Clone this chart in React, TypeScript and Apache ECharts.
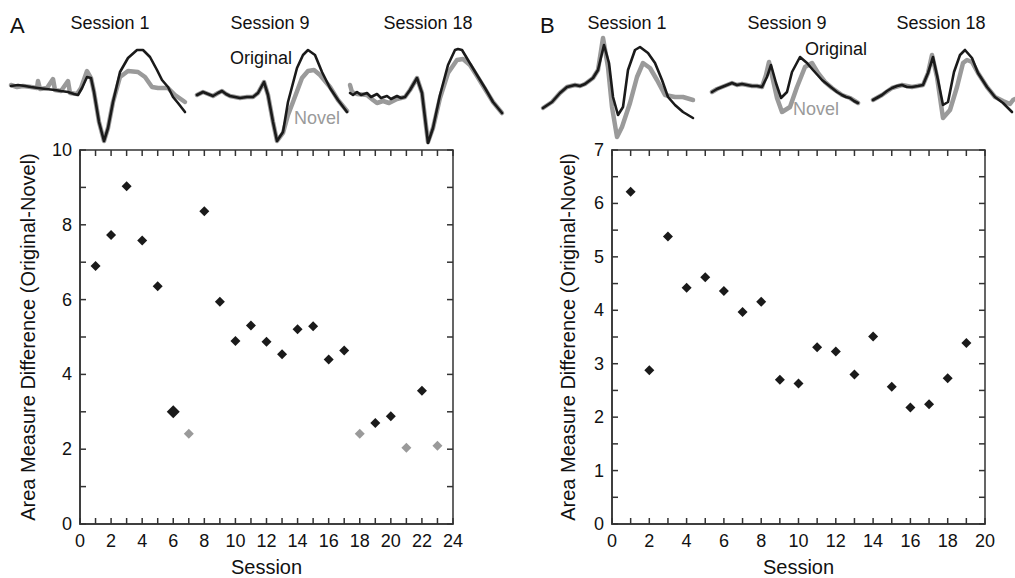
import React, { useEffect, useRef } from "react";
import * as echarts from "echarts";

// ---------- Scatter data ----------
const aOriginalSessions = [1, 2, 3, 4, 5, 6, 8, 9, 10, 11, 12, 13, 14, 15, 16, 17, 19, 20, 22];
const aOriginalValues = [6.9, 7.73, 9.03, 7.58, 6.36, 3.0, 8.36, 5.94, 4.89, 5.31, 4.87, 4.54, 5.21, 5.29, 4.4, 4.64, 2.7, 2.88, 3.56];
const aGreySessions = [7, 18, 21, 23];
const aGreyValues = [2.41, 2.41, 2.04, 2.09];
const aLargeMarkerSessions = [6];
const bSessions = [1, 2, 3, 4, 5, 6, 7, 8, 9, 10, 11, 12, 13, 14, 15, 16, 17, 18, 19];
const bValues = [6.22, 2.88, 5.38, 4.42, 4.62, 4.36, 3.97, 4.16, 2.7, 2.63, 3.31, 3.23, 2.8, 3.51, 2.57, 2.18, 2.24, 2.73, 3.39];

// axis ranges and tick steps
const aXRange = { min: 0, max: 24, tick: 1, label: 2 };
const aYRange = { min: 0, max: 10, tick: 1, label: 2 };
const bXRange = { min: 0, max: 20, tick: 1, label: 2 };
const bYRange = { min: 0, max: 7, tick: 0.5, label: 1 };

// ---------- Waveform insets: [time, amplitude] ----------
const aS1Original = [[0,9],[7,10],[14,9],[20,8],[27,7],[35,6],[44,5],[50,4],[57,3],[63,1],[67,0],[71,7],[76,18],[80,17],[83,3],[88,-27],[93,-46],[97,-33],[102,-7],[109,23],[117,37],[126,45],[132,45],[139,38],[146,25],[151,15],[157,8],[162,-2],[167,-8],[174,-17]];
const aS1Novel = [[0,10],[6,8],[12,9],[20,8],[26,7],[27,14],[29,6],[36,7],[42,16],[44,5],[50,4],[57,14],[59,2],[66,1],[70,7],[76,24],[80,17],[83,3],[88,-27],[93,-46],[97,-33],[102,-7],[109,18],[117,24],[127,23],[134,18],[141,8],[147,7],[157,7],[164,0],[174,-7]];
const aS9Original = [[1,0],[7,3],[12,1],[17,-1],[22,2],[26,4],[30,1],[34,-1],[39,-2],[44,-3],[51,-2],[57,-2],[62,2],[68,13],[72,0],[77,-27],[81,-46],[87,-37],[92,-7],[101,27],[107,40],[112,45],[119,40],[126,23],[134,7],[142,-5],[151,-17]];
const aS9Novel = [[1,0],[7,3],[12,1],[17,-1],[22,2],[26,4],[30,1],[34,-1],[39,-2],[44,-3],[51,-2],[57,-2],[62,2],[68,13],[72,0],[77,-27],[81,-46],[87,-38],[92,-20],[97,-7],[106,17],[112,24],[118,25],[124,20],[134,8],[142,-5],[151,-16]];
const aS18Original = [[1,2],[4,0],[8,3],[12,0],[18,2],[22,-2],[28,1],[32,-3],[38,-1],[42,-4],[48,-1],[52,-3],[56,-2],[61,5],[68,17],[73,2],[76,-23],[79,-48],[84,-33],[91,0],[99,30],[106,45],[109,46],[113,45],[119,35],[128,20],[136,7],[144,-7],[153,-18]];
const aS18Novel = [[1,10],[3,3],[8,1],[18,0],[24,-5],[28,-8],[34,-6],[40,-8],[48,-4],[56,-2],[61,5],[68,17],[73,2],[76,-23],[79,-47],[84,-33],[91,-3],[99,22],[108,35],[114,36],[121,30],[128,19],[136,6],[144,-7],[153,-18]];
const bS1Original = [[1,-13],[10,-7],[18,2],[25,8],[29,9],[33,10],[38,9],[43,11],[51,17],[56,25],[62,50],[67,32],[71,-2],[76,-20],[81,-12],[86,25],[93,45],[98,48],[106,42],[113,32],[120,15],[126,-2],[133,-10],[141,-17],[151,-23]];
const bS1Novel = [[1,-13],[10,-7],[18,2],[25,8],[29,9],[33,10],[38,9],[43,11],[51,17],[56,25],[61,57],[66,28],[70,-12],[75,-42],[80,-32],[88,-8],[95,18],[101,32],[108,27],[115,15],[123,0],[133,-2],[141,-2],[151,-5]];
const bS9Original = [[2,3],[7,6],[12,8],[17,10],[22,12],[27,10],[32,11],[37,10],[42,9],[47,9],[52,8],[57,18],[61,30],[66,12],[71,-3],[77,3],[82,23],[90,38],[97,32],[103,25],[112,15],[122,7],[127,3],[132,0],[136,-2],[140,-3],[144,-6],[148,-8]];
const bS9Novel = [[2,3],[7,6],[12,8],[17,10],[22,12],[27,10],[32,11],[37,10],[42,9],[47,9],[52,8],[56,20],[59,33],[63,15],[67,-3],[72,-17],[80,-12],[87,8],[95,28],[102,32],[108,22],[115,13],[122,7],[132,0],[140,-3],[148,-8]];
const bS18Original = [[1,-5],[10,0],[15,4],[20,7],[25,9],[30,10],[35,8],[40,8],[46,9],[51,10],[56,22],[61,38],[66,15],[71,-10],[76,-7],[82,23],[88,40],[93,45],[100,37],[106,22],[115,8],[123,-2],[131,-8],[140,-17]];
const bS18Novel = [[1,-5],[10,0],[20,7],[30,10],[40,8],[51,10],[56,22],[60,40],[65,18],[71,-23],[78,-15],[85,8],[91,32],[95,35],[100,33],[106,22],[115,8],[123,-2],[131,-6],[138,-9],[141,-5],[143,-4]];

const insetTraces = [
  { original: aS1Original, novel: aS1Novel },
  { original: aS9Original, novel: aS9Novel },
  { original: aS18Original, novel: aS18Novel },
  { original: bS1Original, novel: bS1Novel },
  { original: bS9Original, novel: bS9Novel },
  { original: bS18Original, novel: bS18Novel },
];

const sessionTitles = ["Session 1", "Session 9", "Session 18"];

// ---------- Layout (pixels) ----------
const GRID_W = 373;
const GRID_H = 374;
const TICK_LEN = 6;
const TICK_W = 1.5;
const insetLayout = [
  { left: 11, width: 176 },
  { left: 196, width: 153 },
  { left: 349, width: 155 },
  { left: 542, width: 153 },
  { left: 710, width: 150 },
  { left: 872, width: 143 },
];
const titleX = [110, 270, 428, 627, 787, 941];

const FONT = "'Liberation Sans', Arial, Helvetica, sans-serif";
const BLACK = "#1a1a1a";
const GREY = "#9a9a9a";
const AXIS = "#333333";

function tickValues(r: { min: number; max: number; tick: number }) {
  const out: number[] = [];
  const n = Math.round((r.max - r.min) / r.tick);
  for (let i = 0; i <= n; i++) out.push(+(r.min + i * r.tick).toFixed(4));
  return out;
}
const isLabel = (v: number, step: number) => Math.abs(v / step - Math.round(v / step)) < 1e-6;

function mainAxes(gridIndex: number, xr: any, yr: any, xGap: number, yGap: number) {
  const x = {
    type: "value", gridIndex, min: xr.min, max: xr.max, interval: xr.tick,
    axisLine: { show: true, lineStyle: { color: AXIS, width: 1.5 } },
    axisTick: { show: false },
    splitLine: { show: false },
    axisLabel: { color: "#111", fontSize: 18, fontFamily: FONT, margin: 8, formatter: (v: number) => (isLabel(v, xr.label) ? String(Math.round(v)) : "") },
    name: "Session", nameLocation: "middle", nameGap: xGap,
    nameTextStyle: { color: "#111", fontSize: 20, fontFamily: FONT, lineHeight: 20 },
  };
  const y = {
    type: "value", gridIndex, min: yr.min, max: yr.max, interval: yr.tick,
    axisLine: { show: true, lineStyle: { color: AXIS, width: 1.5 } },
    axisTick: { show: false },
    splitLine: { show: false },
    axisLabel: { color: "#111", fontSize: 18, fontFamily: FONT, margin: 8, formatter: (v: number) => (isLabel(v, yr.label) ? String(Math.round(v)) : "") },
    name: "Area Measure Difference (Original-Novel)", nameLocation: "middle", nameGap: yGap,
    nameTextStyle: { color: "#111", fontSize: 20, fontFamily: FONT },
  };
  return { x, y };
}

// inward ticks on all four sides, drawn as thin rect symbols placed by the axis scales
function tickMarkSeries(axisIndex: number, xr: any, yr: any) {
  const base = {
    type: "scatter", xAxisIndex: axisIndex, yAxisIndex: axisIndex, symbol: "rect",
    silent: true, clip: false, z: 10, itemStyle: { color: AXIS, opacity: 1 },
  };
  const xs = tickValues(xr);
  const ys = tickValues(yr);
  return [
    { ...base, symbolSize: [TICK_W, TICK_LEN], symbolOffset: [0, -TICK_LEN / 2], data: xs.map((v) => [v, yr.min]) },
    { ...base, symbolSize: [TICK_W, TICK_LEN], symbolOffset: [0, TICK_LEN / 2], data: xs.map((v) => [v, yr.max]) },
    { ...base, symbolSize: [TICK_LEN, TICK_W], symbolOffset: [TICK_LEN / 2, 0], data: ys.map((v) => [xr.min, v]) },
    { ...base, symbolSize: [TICK_LEN, TICK_W], symbolOffset: [-TICK_LEN / 2, 0], data: ys.map((v) => [xr.max, v]) },
  ];
}

export default function App() {
  const ref = useRef<HTMLDivElement>(null);
  useEffect(() => {
    if (!ref.current) return;
    const chart = echarts.init(ref.current, null, { renderer: "svg" });

    const gridFrame = { show: true, borderColor: AXIS, borderWidth: 1.5, backgroundColor: "transparent", outerBoundsMode: "none" };
    const grids: any[] = [
      { left: 80, top: 150, width: GRID_W, height: GRID_H, ...gridFrame },
      { left: 612, top: 150, width: GRID_W, height: GRID_H, ...gridFrame },
    ];
    const A = mainAxes(0, aXRange, aYRange, 33, 42);
    const B = mainAxes(1, bXRange, bYRange, 33, 34);
    const xAxis: any[] = [A.x, B.x];
    const yAxis: any[] = [A.y, B.y];
    const series: any[] = [
      ...tickMarkSeries(0, aXRange, aYRange),
      ...tickMarkSeries(1, bXRange, bYRange),
      {
        type: "scatter", xAxisIndex: 0, yAxisIndex: 0, symbol: "diamond",
        symbolSize: (val: number[]) => (aLargeMarkerSessions.includes(val[0]) ? 13 : 10),
        itemStyle: { color: BLACK, opacity: 1 },
        data: aOriginalSessions.map((s, i) => [s, aOriginalValues[i]]),
      },
      {
        type: "scatter", xAxisIndex: 0, yAxisIndex: 0, symbol: "diamond", symbolSize: 10,
        itemStyle: { color: GREY, opacity: 1 },
        data: aGreySessions.map((s, i) => [s, aGreyValues[i]]),
      },
      {
        type: "scatter", xAxisIndex: 1, yAxisIndex: 1, symbol: "diamond", symbolSize: 10,
        itemStyle: { color: BLACK, opacity: 1 },
        data: bSessions.map((s, i) => [s, bValues[i]]),
      },
    ];

    insetTraces.forEach((tr, k) => {
      const lay = insetLayout[k];
      const gi = grids.length;
      grids.push({ left: lay.left, top: 35, width: lay.width, height: 115, outerBoundsMode: "none" });
      const ai = xAxis.length;
      xAxis.push({ type: "value", gridIndex: gi, min: 0, max: lay.width, show: false });
      yAxis.push({ type: "value", gridIndex: gi, min: -55, max: 60, show: false });
      series.push({
        type: "line", xAxisIndex: ai, yAxisIndex: ai, data: tr.novel, showSymbol: false,
        symbol: "none", clip: false, lineStyle: { color: GREY, width: 4.5, join: "round", cap: "round" },
      });
      series.push({
        type: "line", xAxisIndex: ai, yAxisIndex: ai, data: tr.original, showSymbol: false,
        symbol: "none", clip: false, lineStyle: { color: BLACK, width: 2.6, join: "round", cap: "round" },
      });
    });

    const graphic: any[] = [
      { type: "text", left: 10, top: 14, style: { text: "A", fontSize: 22, fontFamily: FONT, fill: "#111" } },
      { type: "text", left: 540, top: 14, style: { text: "B", fontSize: 22, fontFamily: FONT, fill: "#111" } },
    ];
    titleX.forEach((x, i) => {
      graphic.push({
        type: "text", x, y: 23,
        style: { text: sessionTitles[i % 3], fontSize: 18, fontFamily: FONT, fill: "#111", align: "center", verticalAlign: "middle" },
      });
    });
    const labels = [
      { t: "Original", x: 261, y: 58, c: "#111" },
      { t: "Novel", x: 317, y: 118, c: GREY },
      { t: "Original", x: 836, y: 49, c: "#111" },
      { t: "Novel", x: 816, y: 109, c: GREY },
    ];
    labels.forEach((l) => {
      graphic.push({
        type: "text", x: l.x, y: l.y,
        style: { text: l.t, fontSize: 18, fontFamily: FONT, fill: l.c, align: "center", verticalAlign: "middle" },
      });
    });

    chart.setOption({
      animation: false,
      grid: grids,
      xAxis,
      yAxis,
      series,
      graphic,
    });
    return () => chart.dispose();
  }, []);
  return <div ref={ref} style={{ position: "fixed", left: 0, top: 0, width: 1015, height: 578, background: "#fff" }} />;
}
